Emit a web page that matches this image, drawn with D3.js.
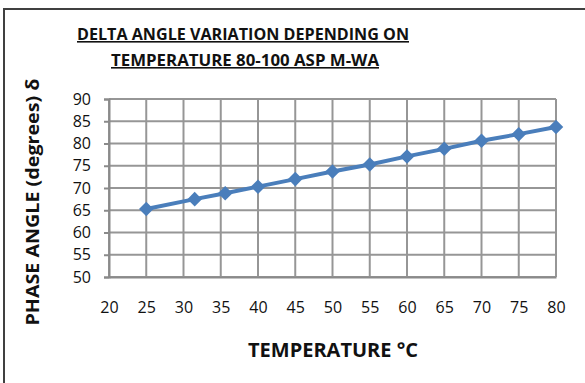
<!DOCTYPE html>
<html>
<head>
<meta charset="utf-8">
<script src="https://cdn.jsdelivr.net/npm/d3@7"></script>
<style>
    body { margin: 0; background: #fff; }
    .tick text { font-family: "Open Sans", sans-serif; font-size: 16px; fill: #111; }
    .title { font-family: "Open Sans", sans-serif; font-weight: bold; fill: #111; }
</style>
</head>
<body>
<div id="vis"></div>
<script>
// Data: temperature (C) and phase angle (degrees)
var temperatures = [25, 31.5, 35.6, 40, 45, 50, 55, 60, 65, 70, 75, 80];
var phaseAngles = [65.3, 67.5, 68.8, 70.3, 72.0, 73.7, 75.3, 77.1, 78.8, 80.6, 82.1, 83.7];
var xTicks = [20, 25, 30, 35, 40, 45, 50, 55, 60, 65, 70, 75, 80];
var yTicks = [50, 55, 60, 65, 70, 75, 80, 85, 90];
var titleLines = ['DELTA ANGLE VARIATION DEPENDING ON', 'TEMPERATURE 80-100  ASP M-WA'];

var width = 585;
var height = 383;

var margin = {
    left: 109,
    top: 99,
    right: 29,
    bottom: 106
};
var drawWidth = width - margin.left - margin.right;
var drawHeight = height - margin.top - margin.bottom;

var svg = d3.select('#vis')
    .append('svg')
    .attr('width', width)
    .attr('height', height);

// chart frame (only top and left edges are inside the picture)
svg.append('rect')
    .attr('x', 4)
    .attr('y', 9)
    .attr('width', width + 20)
    .attr('height', height + 20)
    .attr('fill', 'none')
    .attr('stroke', '#404040')
    .attr('stroke-width', 2);

var xScale = d3.scaleLinear()
    .domain([20, 80])
    .range([0, drawWidth]);

var yScale = d3.scaleLinear()
    .domain([50, 90])
    .range([drawHeight, 0]);

var g = svg.append('g')
    .attr('transform', 'translate(' + margin.left + ',' + margin.top + ')');

// vertical gridlines
g.selectAll('.vgrid')
    .data(xTicks)
    .enter().append('line')
    .attr('class', 'vgrid')
    .attr('x1', function (d) { return xScale(d); })
    .attr('x2', function (d) { return xScale(d); })
    .attr('y1', 0)
    .attr('y2', drawHeight)
    .attr('stroke', '#969696')
    .attr('stroke-width', 2);

// horizontal gridlines
g.selectAll('.hgrid')
    .data(yTicks)
    .enter().append('line')
    .attr('class', 'hgrid')
    .attr('x1', 0)
    .attr('x2', drawWidth)
    .attr('y1', function (d) { return yScale(d); })
    .attr('y2', function (d) { return yScale(d); })
    .attr('stroke', '#969696')
    .attr('stroke-width', 2);

// y axis with ticks to the left
var yAxis = d3.axisLeft(yScale)
    .tickValues(yTicks)
    .tickSize(5)
    .tickPadding(13)
    .tickFormat(d3.format('d'));

var yAxisLabel = g.append('g')
    .call(yAxis);
yAxisLabel.select('.domain').attr('stroke', '#8a8a8a').attr('stroke-width', 2);
yAxisLabel.selectAll('.tick line').attr('stroke', '#8a8a8a').attr('stroke-width', 2);

// x axis, labels well below the plot
var xAxis = d3.axisBottom(xScale)
    .tickValues(xTicks)
    .tickSize(0)
    .tickPadding(25)
    .tickFormat(d3.format('d'));

var xAxisLabel = g.append('g')
    .attr('transform', 'translate(0,' + drawHeight + ')')
    .call(xAxis);
xAxisLabel.select('.domain').attr('stroke', '#8a8a8a').attr('stroke-width', 2);

// the series line
var line = d3.line()
    .x(function (d, i) { return xScale(temperatures[i]); })
    .y(function (d) { return yScale(d); });

g.append('path')
    .datum(phaseAngles)
    .attr('d', line)
    .attr('fill', 'none')
    .attr('stroke', '#4a7ebb')
    .attr('stroke-width', 4);

// diamond markers
g.selectAll('.marker')
    .data(phaseAngles)
    .enter().append('path')
    .attr('class', 'marker')
    .attr('d', d3.symbol().type(d3.symbolDiamond2).size(135))
    .attr('transform', function (d, i) {
        return 'translate(' + xScale(temperatures[i]) + ',' + yScale(d) + ')';
    })
    .attr('fill', '#4a7ebb');

// title, underlined
svg.selectAll('.chart-title')
    .data(titleLines)
    .enter().append('text')
    .attr('class', 'title chart-title')
    .attr('x', function (d, i) { return i === 0 ? 243 : 245; })
    .attr('y', function (d, i) { return 40 + i * 26; })
    .attr('text-anchor', 'middle')
    .attr('text-decoration', 'underline')
    .style('font-size', '16px')
    .attr('textLength', function (d, i) { return i === 0 ? 332 : 268; })
    .attr('lengthAdjust', 'spacingAndGlyphs')
    .text(function (d) { return d; });

// axis titles
svg.append('text')
    .attr('class', 'title')
    .attr('transform', 'translate(333,357)')
    .attr('text-anchor', 'middle')
    .style('font-size', '19px')
    .attr('textLength', 170)
    .attr('lengthAdjust', 'spacingAndGlyphs')
    .text('TEMPERATURE °C');

svg.append('text')
    .attr('class', 'title')
    .attr('transform', 'translate(39,202) rotate(-90)')
    .attr('text-anchor', 'middle')
    .style('font-size', '18px')
    .attr('textLength', 247)
    .attr('lengthAdjust', 'spacingAndGlyphs')
    .text('PHASE ANGLE (degrees) δ');
</script>
</body>
</html>
